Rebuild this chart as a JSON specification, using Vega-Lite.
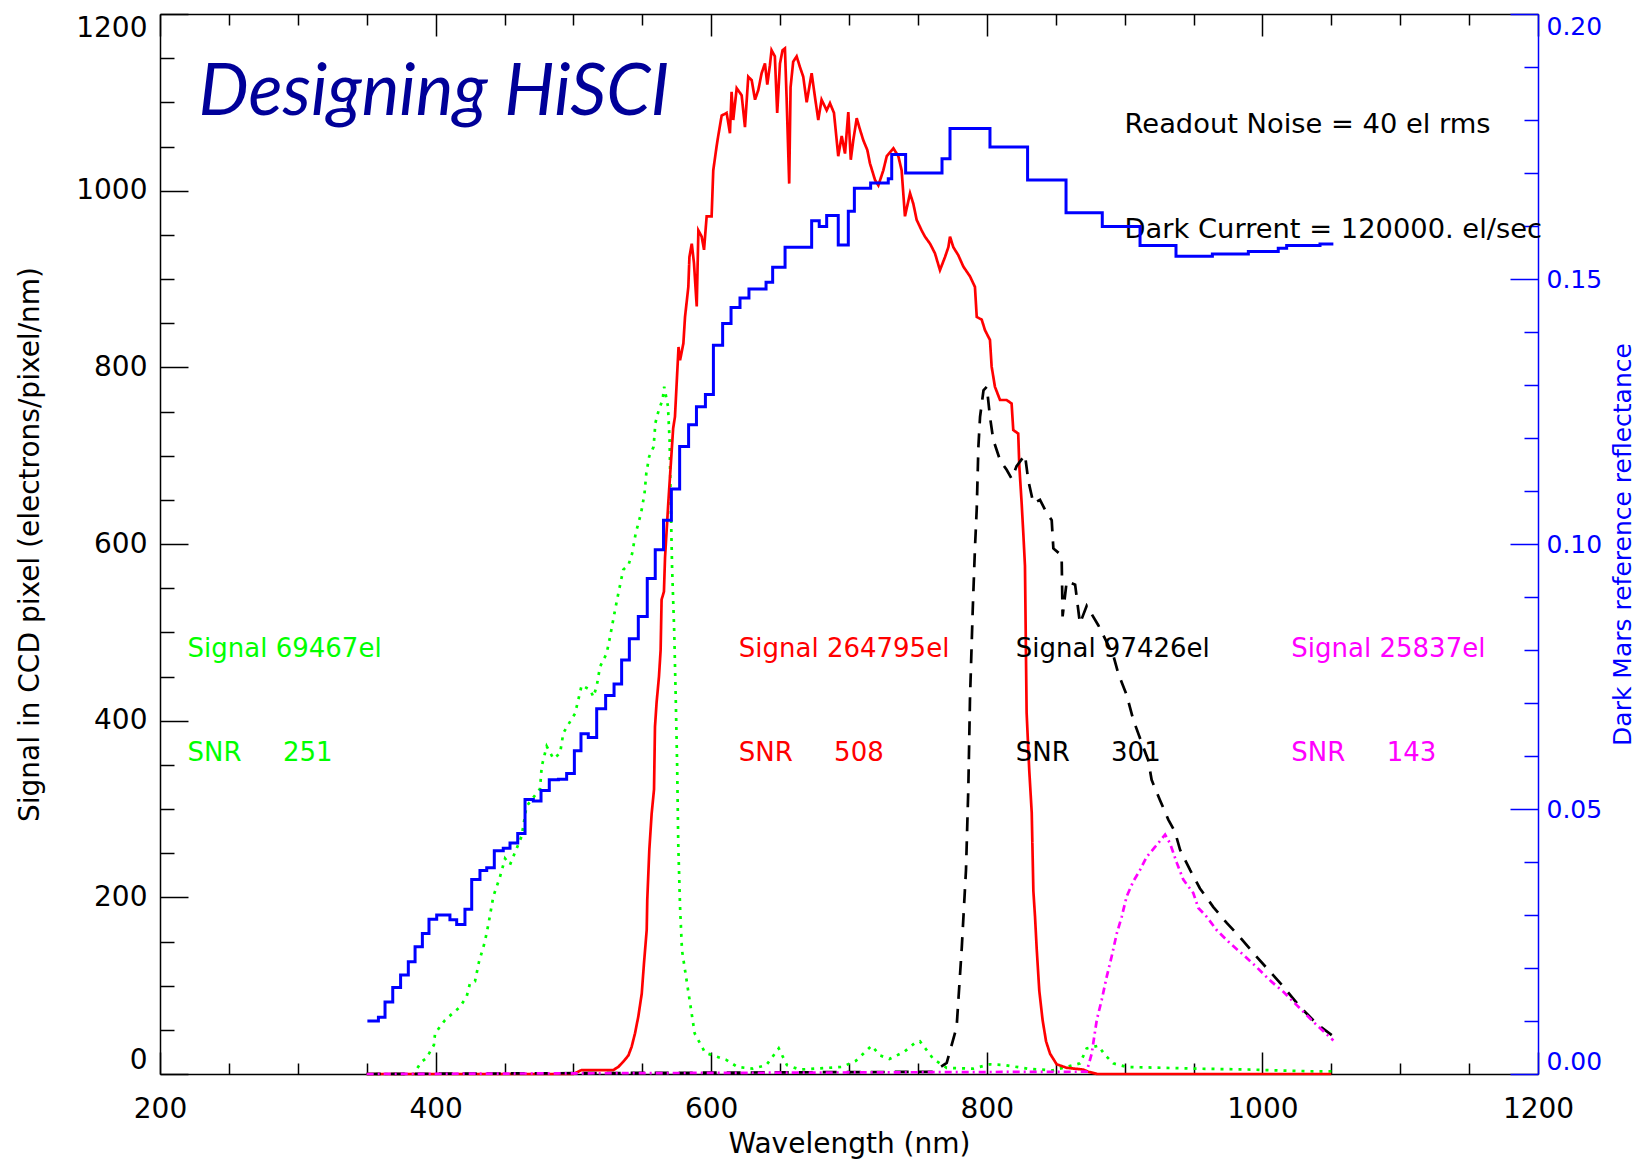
{
  "$schema": "https://vega.github.io/schema/vega-lite/v6.json",
  "width": 1378,
  "height": 1060,
  "autosize": {"type": "none"},
  "padding": {"left": 160, "top": 14, "right": 113, "bottom": 87},
  "background": "white",
  "config": {"view": {"stroke": null}, "font": "DejaVu Sans"},
  "datasets": {
    "signal": [
      {"band":"green","wl":350,"v":0},{"band":"green","wl":384,"v":0},{"band":"green","wl":389.8,"v":14},{"band":"green","wl":393.4,"v":18},{"band":"green","wl":398.8,"v":33},{"band":"green","wl":399.6,"v":46},{"band":"green","wl":406.8,"v":61},{"band":"green","wl":417.7,"v":76},{"band":"green","wl":422.6,"v":88},{"band":"green","wl":425.0,"v":103},{"band":"green","wl":428.6,"v":105},{"band":"green","wl":431.5,"v":127},{"band":"green","wl":435.8,"v":150},{"band":"green","wl":438.5,"v":171},{"band":"green","wl":441.9,"v":201},{"band":"green","wl":446.7,"v":223},{"band":"green","wl":450.4,"v":244},{"band":"green","wl":454.0,"v":237},{"band":"green","wl":462.4,"v":269},{"band":"green","wl":466.0,"v":303},{"band":"green","wl":475.8,"v":323},{"band":"green","wl":477.0,"v":348},{"band":"green","wl":480.6,"v":371},{"band":"green","wl":485.5,"v":357},{"band":"green","wl":490.3,"v":363},{"band":"green","wl":492.7,"v":386},{"band":"green","wl":499.9,"v":405},{"band":"green","wl":501.2,"v":408},{"band":"green","wl":506.0,"v":440},{"band":"green","wl":512.1,"v":435},{"band":"green","wl":514.5,"v":427},{"band":"green","wl":516.9,"v":439},{"band":"green","wl":519.3,"v":461},{"band":"green","wl":524.1,"v":476},{"band":"green","wl":526.6,"v":495},{"band":"green","wl":530.2,"v":525},{"band":"green","wl":532.6,"v":544},{"band":"green","wl":536.2,"v":571},{"band":"green","wl":539.9,"v":576},{"band":"green","wl":542.6,"v":589},{"band":"green","wl":545.2,"v":612},{"band":"green","wl":549.1,"v":635},{"band":"green","wl":551.6,"v":657},{"band":"green","wl":552.9,"v":680},{"band":"green","wl":555.0,"v":699},{"band":"green","wl":558.2,"v":710},{"band":"green","wl":559.5,"v":737},{"band":"green","wl":562.0,"v":752},{"band":"green","wl":564.7,"v":763},{"band":"green","wl":565.9,"v":778},{"band":"green","wl":568.6,"v":756},{"band":"green","wl":569.8,"v":718},{"band":"green","wl":570.6,"v":650},{"band":"green","wl":571.6,"v":574},{"band":"green","wl":573.2,"v":499},{"band":"green","wl":574.3,"v":423},{"band":"green","wl":575.3,"v":348},{"band":"green","wl":576.1,"v":260},{"band":"green","wl":577.4,"v":189},{"band":"green","wl":578.8,"v":140},{"band":"green","wl":584.3,"v":84},{"band":"green","wl":588.0,"v":46},{"band":"green","wl":595.6,"v":24},{"band":"green","wl":611,"v":16},{"band":"green","wl":619,"v":8},{"band":"green","wl":630,"v":6},{"band":"green","wl":640,"v":10},{"band":"green","wl":649,"v":29},{"band":"green","wl":655,"v":10},{"band":"green","wl":664.4,"v":5},{"band":"green","wl":695,"v":8},{"band":"green","wl":705,"v":15},{"band":"green","wl":716.4,"v":32},{"band":"green","wl":722.5,"v":21},{"band":"green","wl":729.3,"v":17},{"band":"green","wl":740,"v":25},{"band":"green","wl":748.5,"v":36},{"band":"green","wl":751.5,"v":37},{"band":"green","wl":761.2,"v":17},{"band":"green","wl":770.9,"v":7},{"band":"green","wl":790,"v":6},{"band":"green","wl":802.3,"v":11},{"band":"green","wl":813.4,"v":10},{"band":"green","wl":830,"v":6},{"band":"green","wl":847.7,"v":4},{"band":"green","wl":867.6,"v":12},{"band":"green","wl":872.5,"v":29},{"band":"green","wl":880.9,"v":32},{"band":"green","wl":885.8,"v":21.5},{"band":"green","wl":891.8,"v":12},{"band":"green","wl":901.5,"v":8},{"band":"green","wl":954,"v":6},{"band":"green","wl":991.9,"v":5},{"band":"green","wl":1002,"v":4.5},{"band":"green","wl":1037,"v":3},{"band":"green","wl":1051,"v":3},
      {"band":"red","wl":350,"v":0},{"band":"red","wl":500,"v":0},{"band":"red","wl":506,"v":4.5},{"band":"red","wl":529,"v":4.5},{"band":"red","wl":532.6,"v":8},{"band":"red","wl":536.2,"v":14},{"band":"red","wl":539.9,"v":21},{"band":"red","wl":542.3,"v":31},{"band":"red","wl":544.7,"v":46},{"band":"red","wl":547.1,"v":65},{"band":"red","wl":549.6,"v":91},{"band":"red","wl":551.2,"v":125},{"band":"red","wl":553.2,"v":163},{"band":"red","wl":553.6,"v":197},{"band":"red","wl":555.1,"v":254},{"band":"red","wl":556.8,"v":295},{"band":"red","wl":558.5,"v":322},{"band":"red","wl":559.2,"v":393},{"band":"red","wl":560.4,"v":421},{"band":"red","wl":562.1,"v":450},{"band":"red","wl":563.3,"v":480},{"band":"red","wl":564.0,"v":537},{"band":"red","wl":565.7,"v":546},{"band":"red","wl":566.5,"v":585},{"band":"red","wl":569,"v":650},{"band":"red","wl":572.4,"v":731},{"band":"red","wl":573.7,"v":744},{"band":"red","wl":576.3,"v":823},{"band":"red","wl":577.4,"v":808},{"band":"red","wl":579.8,"v":827},{"band":"red","wl":581.0,"v":857},{"band":"red","wl":583.4,"v":891},{"band":"red","wl":584.2,"v":925},{"band":"red","wl":585.9,"v":940},{"band":"red","wl":587.5,"v":918},{"band":"red","wl":589.5,"v":869},{"band":"red","wl":590.7,"v":955},{"band":"red","wl":593.1,"v":948},{"band":"red","wl":594.8,"v":933},{"band":"red","wl":596.7,"v":971},{"band":"red","wl":600.3,"v":971},{"band":"red","wl":601.5,"v":1023},{"band":"red","wl":603.9,"v":1050},{"band":"red","wl":605.1,"v":1062},{"band":"red","wl":607.6,"v":1085},{"band":"red","wl":611.2,"v":1088},{"band":"red","wl":613.6,"v":1065},{"band":"red","wl":614.8,"v":1112},{"band":"red","wl":616.0,"v":1080},{"band":"red","wl":618.5,"v":1116},{"band":"red","wl":622.1,"v":1108},{"band":"red","wl":624.5,"v":1072},{"band":"red","wl":626.9,"v":1129},{"band":"red","wl":629.4,"v":1125},{"band":"red","wl":631.8,"v":1103},{"band":"red","wl":634.2,"v":1114},{"band":"red","wl":636.6,"v":1133},{"band":"red","wl":639.0,"v":1144},{"band":"red","wl":640.7,"v":1120},{"band":"red","wl":642.6,"v":1142},{"band":"red","wl":643.8,"v":1159},{"band":"red","wl":646.2,"v":1152},{"band":"red","wl":647.9,"v":1088},{"band":"red","wl":649.9,"v":1144},{"band":"red","wl":651.8,"v":1159},{"band":"red","wl":653.5,"v":1161},{"band":"red","wl":654.7,"v":1106},{"band":"red","wl":656.6,"v":1008},{"band":"red","wl":657.6,"v":1117},{"band":"red","wl":659.5,"v":1146},{"band":"red","wl":662.0,"v":1152},{"band":"red","wl":664.4,"v":1140},{"band":"red","wl":666.8,"v":1129},{"band":"red","wl":669.3,"v":1100},{"band":"red","wl":672.9,"v":1133},{"band":"red","wl":675.3,"v":1106},{"band":"red","wl":677.7,"v":1080},{"band":"red","wl":680.1,"v":1103},{"band":"red","wl":683.8,"v":1091},{"band":"red","wl":686.2,"v":1099},{"band":"red","wl":689.1,"v":1088},{"band":"red","wl":692.2,"v":1039},{"band":"red","wl":694.7,"v":1062},{"band":"red","wl":697.1,"v":1042},{"band":"red","wl":699.5,"v":1089},{"band":"red","wl":701.3,"v":1035},{"band":"red","wl":703.1,"v":1057},{"band":"red","wl":705.6,"v":1082},{"band":"red","wl":708.0,"v":1069},{"band":"red","wl":710.4,"v":1057},{"band":"red","wl":713.3,"v":1046},{"band":"red","wl":715.2,"v":1031},{"band":"red","wl":718.9,"v":1012},{"band":"red","wl":721.3,"v":1006},{"band":"red","wl":724.9,"v":1023},{"band":"red","wl":727.4,"v":1039},{"band":"red","wl":732.2,"v":1048},{"band":"red","wl":735.8,"v":1039},{"band":"red","wl":738.2,"v":1023},{"band":"red","wl":740.6,"v":971},{"band":"red","wl":744.3,"v":997},{"band":"red","wl":746.7,"v":985},{"band":"red","wl":749.1,"v":967},{"band":"red","wl":752.7,"v":955},{"band":"red","wl":755.1,"v":948},{"band":"red","wl":758.8,"v":940},{"band":"red","wl":762.4,"v":929},{"band":"red","wl":766.0,"v":910},{"band":"red","wl":769.7,"v":925},{"band":"red","wl":772.1,"v":936},{"band":"red","wl":773.3,"v":948},{"band":"red","wl":775.7,"v":936},{"band":"red","wl":779.3,"v":927},{"band":"red","wl":783.0,"v":914},{"band":"red","wl":787.8,"v":903},{"band":"red","wl":791.4,"v":891},{"band":"red","wl":792.7,"v":857},{"band":"red","wl":796.3,"v":854},{"band":"red","wl":798.7,"v":842},{"band":"red","wl":802.3,"v":831},{"band":"red","wl":803.5,"v":801},{"band":"red","wl":805.9,"v":778},{"band":"red","wl":809.6,"v":763},{"band":"red","wl":814.4,"v":763},{"band":"red","wl":818.0,"v":759},{"band":"red","wl":819.2,"v":729},{"band":"red","wl":822.8,"v":725},{"band":"red","wl":823.6,"v":688},{"band":"red","wl":825.3,"v":646},{"band":"red","wl":826.5,"v":612},{"band":"red","wl":827.7,"v":575},{"band":"red","wl":828.9,"v":409},{"band":"red","wl":830.8,"v":344},{"band":"red","wl":832.6,"v":296},{"band":"red","wl":833.8,"v":207},{"band":"red","wl":835.0,"v":178},{"band":"red","wl":836.2,"v":142},{"band":"red","wl":838.1,"v":94},{"band":"red","wl":840.5,"v":61},{"band":"red","wl":843.0,"v":37},{"band":"red","wl":845.9,"v":23},{"band":"red","wl":850.7,"v":11},{"band":"red","wl":858.0,"v":7},{"band":"red","wl":870.0,"v":5},{"band":"red","wl":873.7,"v":2.5},{"band":"red","wl":880,"v":0},{"band":"red","wl":1050,"v":0},
      {"band":"nir","wl":350,"v":0},{"band":"nir","wl":761,"v":2.5},{"band":"nir","wl":770.9,"v":12.6},{"band":"nir","wl":778.1,"v":53},{"band":"nir","wl":781.8,"v":142},{"band":"nir","wl":784.9,"v":231},{"band":"nir","wl":786.6,"v":324},{"band":"nir","wl":787.8,"v":425},{"band":"nir","wl":789.8,"v":526},{"band":"nir","wl":791.4,"v":595},{"band":"nir","wl":792.7,"v":640},{"band":"nir","wl":793.9,"v":710},{"band":"nir","wl":795.1,"v":744},{"band":"nir","wl":797.6,"v":774},{"band":"nir","wl":800,"v":778},{"band":"nir","wl":802.3,"v":744},{"band":"nir","wl":804.7,"v":718},{"band":"nir","wl":809.6,"v":695},{"band":"nir","wl":814.4,"v":684},{"band":"nir","wl":818.0,"v":674},{"band":"nir","wl":821.6,"v":688},{"band":"nir","wl":827.7,"v":701},{"band":"nir","wl":830.1,"v":672},{"band":"nir","wl":833.8,"v":646},{"band":"nir","wl":838.6,"v":650},{"band":"nir","wl":843.5,"v":635},{"band":"nir","wl":847.1,"v":627},{"band":"nir","wl":848.3,"v":595},{"band":"nir","wl":854.3,"v":587},{"band":"nir","wl":855,"v":518},{"band":"nir","wl":858,"v":558},{"band":"nir","wl":864.1,"v":554},{"band":"nir","wl":867.6,"v":510},{"band":"nir","wl":872.5,"v":530},{"band":"nir","wl":880.9,"v":508},{"band":"nir","wl":891.8,"v":474},{"band":"nir","wl":895.5,"v":453},{"band":"nir","wl":901.5,"v":429},{"band":"nir","wl":906.3,"v":401},{"band":"nir","wl":911.2,"v":380},{"band":"nir","wl":917.2,"v":355},{"band":"nir","wl":919.6,"v":333},{"band":"nir","wl":925.7,"v":310},{"band":"nir","wl":931.7,"v":288},{"band":"nir","wl":936.6,"v":274},{"band":"nir","wl":940.2,"v":254},{"band":"nir","wl":947.5,"v":231},{"band":"nir","wl":954.7,"v":210},{"band":"nir","wl":964.4,"v":189},{"band":"nir","wl":974.1,"v":171},{"band":"nir","wl":983.7,"v":155},{"band":"nir","wl":993.4,"v":137},{"band":"nir","wl":1003.1,"v":120},{"band":"nir","wl":1015.2,"v":99},{"band":"nir","wl":1027.3,"v":76},{"band":"nir","wl":1039.4,"v":57},{"band":"nir","wl":1050.3,"v":44},
      {"band":"ir","wl":350,"v":0},{"band":"ir","wl":872.5,"v":2.6},{"band":"ir","wl":876.1,"v":23},{"band":"ir","wl":879.8,"v":61},{"band":"ir","wl":883.4,"v":84},{"band":"ir","wl":887.0,"v":110},{"band":"ir","wl":890.6,"v":133},{"band":"ir","wl":894.3,"v":159},{"band":"ir","wl":897.9,"v":178},{"band":"ir","wl":901.5,"v":201},{"band":"ir","wl":906.3,"v":218},{"band":"ir","wl":911.2,"v":231},{"band":"ir","wl":916.1,"v":246},{"band":"ir","wl":922.1,"v":257},{"band":"ir","wl":929.4,"v":271},{"band":"ir","wl":933.0,"v":261},{"band":"ir","wl":937.9,"v":239},{"band":"ir","wl":942.6,"v":220},{"band":"ir","wl":949.8,"v":205},{"band":"ir","wl":953.5,"v":188},{"band":"ir","wl":959.6,"v":178},{"band":"ir","wl":966.8,"v":163},{"band":"ir","wl":976.5,"v":148},{"band":"ir","wl":986.1,"v":135},{"band":"ir","wl":995.8,"v":121},{"band":"ir","wl":1005.5,"v":106},{"band":"ir","wl":1015.2,"v":93},{"band":"ir","wl":1024.9,"v":78},{"band":"ir","wl":1037.0,"v":59},{"band":"ir","wl":1051.5,"v":38}
    ],
    "refl": [
      {"wl":350.5,"r":0.0100},{"wl":358.5,"r":0.0107},{"wl":363.3,"r":0.0136},{"wl":368.9,"r":0.0163},{"wl":374.6,"r":0.0187},{"wl":380.2,"r":0.0212},{"wl":385.1,"r":0.0240},{"wl":390.4,"r":0.0265},{"wl":395.2,"r":0.0292},{"wl":400.8,"r":0.0300},{"wl":410.4,"r":0.0291},{"wl":415.3,"r":0.0282},{"wl":421.3,"r":0.0311},{"wl":426.2,"r":0.0367},{"wl":432.2,"r":0.0384},{"wl":437.1,"r":0.0389},{"wl":442.6,"r":0.0421},{"wl":449.1,"r":0.0426},{"wl":454.0,"r":0.0436},{"wl":459.6,"r":0.0454},{"wl":464.9,"r":0.0518},{"wl":470.9,"r":0.0515},{"wl":476.5,"r":0.0535},{"wl":482.5,"r":0.0555},{"wl":489.1,"r":0.0556},{"wl":495.1,"r":0.0567},{"wl":500.7,"r":0.0610},{"wl":505.5,"r":0.0642},{"wl":510.8,"r":0.0635},{"wl":516.9,"r":0.0689},{"wl":523.4,"r":0.0714},{"wl":529.5,"r":0.0736},{"wl":535.0,"r":0.0781},{"wl":540.6,"r":0.0821},{"wl":547.1,"r":0.0863},{"wl":553.6,"r":0.0935},{"wl":559.4,"r":0.0989},{"wl":565.4,"r":0.1045},{"wl":571.1,"r":0.1104},{"wl":577.1,"r":0.1184},{"wl":583.6,"r":0.1225},{"wl":589.3,"r":0.1259},{"wl":595.8,"r":0.1282},{"wl":601.6,"r":0.1375},{"wl":608.3,"r":0.1416},{"wl":614.4,"r":0.1446},{"wl":620.9,"r":0.1464},{"wl":627.4,"r":0.1481},{"wl":639.8,"r":0.1494},{"wl":644.6,"r":0.1522},{"wl":653.6,"r":0.1560},{"wl":672.9,"r":0.1610},{"wl":678.4,"r":0.1599},{"wl":683.8,"r":0.1620},{"wl":692.2,"r":0.1564},{"wl":699.5,"r":0.1628},{"wl":703.9,"r":0.1671},{"wl":715.7,"r":0.1681},{"wl":728.5,"r":0.1689},{"wl":731.0,"r":0.1735},{"wl":741.1,"r":0.1700},{"wl":767.5,"r":0.1727},{"wl":773.3,"r":0.1784},{"wl":802.3,"r":0.1749},{"wl":829.6,"r":0.1687},{"wl":857.5,"r":0.1625},{"wl":883.8,"r":0.1599},{"wl":911.2,"r":0.1563},{"wl":937.3,"r":0.1543},{"wl":963.7,"r":0.1547},{"wl":989.8,"r":0.1552},{"wl":1011.5,"r":0.1558},{"wl":1017.6,"r":0.1563},{"wl":1041.8,"r":0.1566},{"wl":1051.5,"r":0.1566}
    ],
    "notes": [
      {"band":"green","wl":220,"v":472,"text":"Signal 69467el"},
      {"band":"green","wl":220,"v":354,"text":"SNR\u00a0\u00a0\u00a0\u00a0\u00a0251"},
      {"band":"red","wl":620,"v":472,"text":"Signal 264795el"},
      {"band":"red","wl":620,"v":354,"text":"SNR\u00a0\u00a0\u00a0\u00a0\u00a0508"},
      {"band":"nir","wl":821,"v":472,"text":"Signal 97426el"},
      {"band":"nir","wl":821,"v":354,"text":"SNR\u00a0\u00a0\u00a0\u00a0\u00a0301"},
      {"band":"ir","wl":1021,"v":472,"text":"Signal 25837el"},
      {"band":"ir","wl":1021,"v":354,"text":"SNR\u00a0\u00a0\u00a0\u00a0\u00a0143"}
    ],
    "info": [
      {"wl":900,"v":1065,"text":"Readout Noise = 40 el rms"},
      {"wl":900,"v":946,"text":"Dark Current = 120000. el/sec"}
    ],
    "banner": [
      {"wl":228,"v":1086,"text":"Designing HiSCI"}
    ]
  },
  "layer": [
    {
      "data": {"name": "signal"},
      "mark": {"type": "line", "strokeWidth": 2.7},
      "encoding": {
        "x": {
          "field": "wl", "type": "quantitative",
          "scale": {"domain": [200, 1200], "nice": false},
          "axis": {
            "orient": "bottom",
            "values": [200,250,300,350,400,450,500,550,600,650,700,750,800,850,900,950,1000,1050,1100,1150,1200],
            "format": "d",
            "labelExpr": "datum.value % 200 === 0 ? datum.label : ''",
            "tickSize": {"expr": "datum.value % 200 === 0 ? -22 : -11"},
            "tickColor": "black", "tickWidth": 1.5,
            "domainColor": "black", "domainWidth": 1.5,
            "grid": false,
            "labelFont": "DejaVu Sans", "labelFontSize": 28, "labelColor": "black",
            "labelPadding": 43, "labelFlush": false, "labelOverlap": false, "labelBound": false,
            "title": "Wavelength (nm)",
            "titleFont": "DejaVu Sans", "titleFontSize": 28, "titleFontWeight": "normal", "titleColor": "black",
            "titleX": 689, "titleY": 70, "titleAlign": "center", "titleBaseline": "middle"
          }
        },
        "y": {
          "field": "v", "type": "quantitative",
          "scale": {"domain": [0, 1200], "nice": false},
          "axis": {
            "orient": "left",
            "values": [0,50,100,150,200,250,300,350,400,450,500,550,600,650,700,750,800,850,900,950,1000,1050,1100,1150,1200],
            "format": "d",
            "labelExpr": "datum.value % 200 === 0 ? datum.label : ''",
            "tickSize": {"expr": "datum.value % 200 === 0 ? -28 : -14"},
            "tickColor": "black", "tickWidth": 1.5,
            "domainColor": "black", "domainWidth": 1.5,
            "grid": false,
            "labelFont": "DejaVu Sans", "labelFontSize": 28, "labelColor": "black",
            "labelPadding": 41, "labelFlush": true, "labelFlushOffset": 0, "labelOverlap": false, "labelBound": false,
            "title": "Signal in CCD pixel (electrons/pixel/nm)",
            "titleFont": "DejaVu Sans", "titleFontSize": 28, "titleFontWeight": "normal", "titleColor": "black",
            "titleAngle": -90, "titleX": -130, "titleY": 530, "titleAlign": "center", "titleBaseline": "middle"
          }
        },
        "color": {
          "field": "band", "type": "nominal",
          "scale": {"domain": ["green", "red", "nir", "ir"], "range": ["#00ff00", "#ff0000", "#000000", "#ff00ff"]},
          "legend": null
        },
        "strokeDash": {
          "field": "band", "type": "nominal",
          "scale": {"domain": ["green", "red", "nir", "ir"], "range": [[3, 6], [1, 0], [14, 10], [7, 4, 2, 4]]},
          "legend": null
        }
      }
    },
    {
      "data": {"name": "notes"},
      "mark": {"type": "text", "align": "left", "baseline": "alphabetic", "font": "DejaVu Sans", "fontSize": 26},
      "encoding": {
        "x": {"field": "wl", "type": "quantitative", "scale": {"domain": [200, 1200], "nice": false}, "axis": null},
        "y": {"field": "v", "type": "quantitative", "scale": {"domain": [0, 1200], "nice": false}, "axis": null},
        "text": {"field": "text"},
        "color": {
          "field": "band", "type": "nominal",
          "scale": {"domain": ["green", "red", "nir", "ir"], "range": ["#00ff00", "#ff0000", "#000000", "#ff00ff"]},
          "legend": null
        }
      }
    },
    {
      "data": {"name": "info"},
      "mark": {"type": "text", "align": "left", "baseline": "alphabetic", "font": "DejaVu Sans", "fontSize": 27.3, "color": "black"},
      "encoding": {
        "x": {"field": "wl", "type": "quantitative", "scale": {"domain": [200, 1200], "nice": false}, "axis": null},
        "y": {"field": "v", "type": "quantitative", "scale": {"domain": [0, 1200], "nice": false}, "axis": null},
        "text": {"field": "text"}
      }
    },
    {
      "data": {"name": "banner"},
      "mark": {"type": "text", "align": "left", "baseline": "alphabetic", "font": "Lato", "fontStyle": "italic", "fontSize": 71, "color": "#000099"},
      "encoding": {
        "x": {"field": "wl", "type": "quantitative", "scale": {"domain": [200, 1200], "nice": false}, "axis": null},
        "y": {"field": "v", "type": "quantitative", "scale": {"domain": [0, 1200], "nice": false}, "axis": null},
        "text": {"field": "text"}
      }
    },
    {
      "data": {"name": "refl"},
      "mark": {"type": "line", "interpolate": "step-after", "color": "#0000ff", "strokeWidth": 3},
      "encoding": {
        "x": {
          "field": "wl", "type": "quantitative",
          "scale": {"domain": [200, 1200], "nice": false},
          "axis": {
            "orient": "top",
            "values": [200,250,300,350,400,450,500,550,600,650,700,750,800,850,900,950,1000,1050,1100,1150,1200],
            "labels": false,
            "tickSize": {"expr": "datum.value % 200 === 0 ? -22 : -11"},
            "tickColor": "black", "tickWidth": 1.5,
            "domainColor": "black", "domainWidth": 1.5,
            "grid": false,
            "title": null
          }
        },
        "y": {
          "field": "r", "type": "quantitative",
          "scale": {"domain": [0, 0.2], "nice": false},
          "axis": {
            "orient": "right",
            "values": [0,0.01,0.02,0.03,0.04,0.05,0.06,0.07,0.08,0.09,0.1,0.11,0.12,0.13,0.14,0.15,0.16,0.17,0.18,0.19,0.2],
            "format": ".2f",
            "labelExpr": "round(datum.value*100) % 5 === 0 ? datum.label : ''",
            "tickSize": {"expr": "round(datum.value*100) % 5 === 0 ? -28 : -14"},
            "tickColor": "#0000ff", "tickWidth": 1.5,
            "domainColor": "#0000ff", "domainWidth": 1.5,
            "grid": false,
            "labelFont": "DejaVu Sans", "labelFontSize": 25, "labelColor": "#0000ff",
            "labelPadding": 36, "labelFlush": true, "labelFlushOffset": 0, "labelOverlap": false, "labelBound": false,
            "title": "Dark Mars reference reflectance",
            "titleFont": "DejaVu Sans", "titleFontSize": 25, "titleFontWeight": "normal", "titleColor": "#0000ff",
            "titleAngle": -90, "titleX": 84, "titleY": 530, "titleAlign": "center", "titleBaseline": "middle"
          }
        }
      }
    }
  ],
  "resolve": {"scale": {"y": "independent"}, "axis": {"x": "independent", "y": "independent"}}
}
